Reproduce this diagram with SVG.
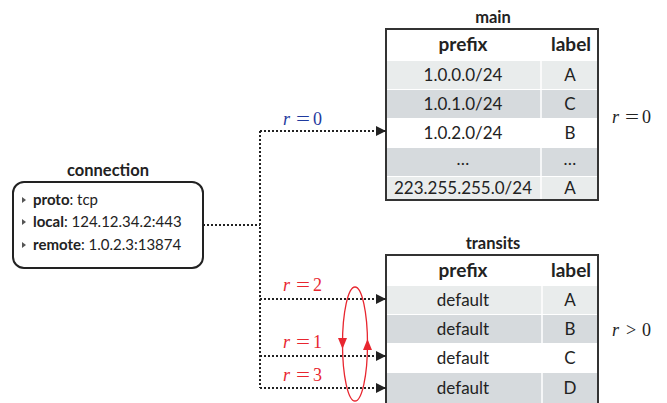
<svg xmlns="http://www.w3.org/2000/svg" width="667" height="403" viewBox="0 0 667 403">
<defs>
<style>
.t{font-family:Lato,"Noto Sans","Liberation Sans",sans-serif;fill:#222}
.cell{font-size:17px;text-anchor:middle}
.hdr{font-size:19px;font-weight:bold;text-anchor:middle}
.ttl{font-size:16.5px;font-weight:bold;text-anchor:middle}
.li{font-size:15px}
.b{font-weight:bold}
.l1{fill:#e9ecec}
.l2{fill:#d6dadd}
.l0{fill:#ffffff}
.frame{fill:none;stroke:#333;stroke-width:2}
.sep{stroke:#fff;stroke-width:1.5}
.dot{fill:none;stroke:#222;stroke-width:2;stroke-dasharray:2 2}
.m{font-family:"Liberation Serif","Times New Roman",serif;font-size:18px}
.i{font-style:italic}
.blue{fill:#1f3a9e}
.red{fill:#e8262f}
.blk{fill:#222}
.bul{fill:#555}
</style>
<marker id="ah" markerWidth="10" markerHeight="10" refX="10" refY="5" orient="auto" markerUnits="userSpaceOnUse">
<path d="M0,0 L10,5 L0,10 Z" fill="#222"/>
</marker>
</defs>

<g id="connection">
<text class="t ttl" x="108" y="176">connection</text>
<rect x="13" y="182" width="190" height="86" rx="11" ry="11" fill="#fff" stroke="#222" stroke-width="2"/>
<path class="bul" d="M22,197 L26,200 L22,203 Z"/>
<path class="bul" d="M22,219 L26,222 L22,225 Z"/>
<path class="bul" d="M22,242 L26,245 L22,248 Z"/>
<text class="t li" x="33" y="205"><tspan class="b">proto</tspan>: tcp</text>
<text class="t li" x="33" y="227"><tspan class="b">local</tspan>: 124.12.34.2:443</text>
<text class="t li" x="33" y="250"><tspan class="b">remote</tspan>: 1.0.2.3:13874</text>
</g>

<g id="main">
<text class="t ttl" x="493" y="23">main</text>
<rect class="l0" x="387" y="30" width="210" height="30"/>
<rect class="l1" x="387" y="61" width="210" height="28"/>
<rect class="l2" x="387" y="90" width="210" height="28"/>
<rect class="l0" x="387" y="119" width="210" height="28"/>
<rect class="l2" x="387" y="148" width="210" height="28"/>
<rect class="l1" x="387" y="177" width="210" height="22"/>
<line class="sep" x1="541" y1="61" x2="541" y2="199"/>
<rect class="frame" x="386" y="29" width="212" height="171"/>
<text class="t hdr" x="463" y="51">prefix</text>
<text class="t hdr" x="571" y="51">label</text>
<text class="t cell" x="463" y="81">1.0.0.0/24</text>
<text class="t cell" x="570" y="81">A</text>
<text class="t cell" x="463" y="110">1.0.1.0/24</text>
<text class="t cell" x="570" y="110">C</text>
<text class="t cell" x="463" y="139">1.0.2.0/24</text>
<text class="t cell" x="570" y="139">B</text>
<text class="t cell" x="463" y="165">…</text>
<text class="t cell" x="570" y="165">…</text>
<text class="t cell" x="463" y="194">223.255.255.0/24</text>
<text class="t cell" x="570" y="194">A</text>
</g>

<g id="transits">
<text class="t ttl" x="493" y="249">transits</text>
<rect class="l0" x="387" y="256" width="210" height="29"/>
<rect class="l1" x="387" y="286" width="210" height="28"/>
<rect class="l2" x="387" y="315" width="210" height="28"/>
<rect class="l0" x="387" y="344" width="210" height="28"/>
<rect class="l2" x="387" y="373" width="210" height="30"/>
<line class="sep" x1="542" y1="286" x2="542" y2="403"/>
<path class="frame" d="M386,405 L386,255 L598,255 L598,405"/>
<text class="t hdr" x="463" y="277">prefix</text>
<text class="t hdr" x="571" y="277">label</text>
<text class="t cell" x="463" y="306">default</text>
<text class="t cell" x="570" y="306">A</text>
<text class="t cell" x="463" y="335">default</text>
<text class="t cell" x="570" y="335">B</text>
<text class="t cell" x="463" y="364">default</text>
<text class="t cell" x="570" y="364">C</text>
<text class="t cell" x="463" y="394">default</text>
<text class="t cell" x="570" y="394">D</text>
</g>

<g id="connectors">
<path class="dot" d="M203,225 H260"/>
<path class="dot" d="M260,131 V388"/>
<path class="dot" d="M260,131 H386" marker-end="url(#ah)"/>
<path class="dot" d="M260,299 H386" marker-end="url(#ah)"/>
<path class="dot" d="M260,356 H386" marker-end="url(#ah)"/>
<path class="dot" d="M260,388 H386" marker-end="url(#ah)"/>
<ellipse cx="355" cy="344" rx="12.5" ry="57" fill="none" stroke="#e8262f" stroke-width="1.3"/>
<path d="M338,338 L347,338 L342.5,349 Z" fill="#e8262f"/>
<path d="M363,350 L372,350 L367.5,339 Z" fill="#e8262f"/>
</g>

<g id="labels">
<text class="m blue" y="125"><tspan class="i" x="283">r</tspan><tspan x="296" textLength="14" lengthAdjust="spacingAndGlyphs">=</tspan><tspan x="313">0</tspan></text>
<text class="m red" y="291"><tspan class="i" x="283">r</tspan><tspan x="296" textLength="14" lengthAdjust="spacingAndGlyphs">=</tspan><tspan x="313">2</tspan></text>
<text class="m red" y="348"><tspan class="i" x="283">r</tspan><tspan x="296" textLength="14" lengthAdjust="spacingAndGlyphs">=</tspan><tspan x="313">1</tspan></text>
<text class="m red" y="381"><tspan class="i" x="283">r</tspan><tspan x="296" textLength="14" lengthAdjust="spacingAndGlyphs">=</tspan><tspan x="313">3</tspan></text>
<text class="m blk" y="123"><tspan class="i" x="612">r</tspan><tspan x="625" textLength="14" lengthAdjust="spacingAndGlyphs">=</tspan><tspan x="642">0</tspan></text>
<text class="m blk" y="336"><tspan class="i" x="612">r</tspan><tspan x="626">&gt;</tspan><tspan x="642">0</tspan></text>
</g>
</svg>
